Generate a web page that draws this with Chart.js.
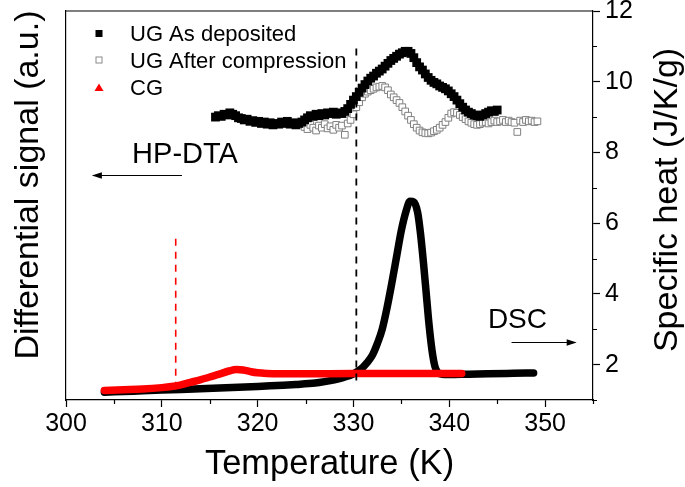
<!DOCTYPE html>
<html><head><meta charset="utf-8">
<script src="https://cdn.jsdelivr.net/npm/chart.js@4.4.1/dist/chart.umd.min.js"></script>
<style>html,body{margin:0;padding:0;background:#fff;}#wrap{width:685px;height:487px;}</style>
</head><body><div id="wrap"><canvas id="c" width="685" height="487"></canvas></div>
<script>
// ---------- data ----------
const xTickValues = [300, 310, 320, 330, 340, 350];
const xMinorTicks = [305, 315, 325, 335, 345, 355];
const cpTickValues = [2, 4, 6, 8, 10, 12];
const cpMinorTicks = [1, 3, 5, 7, 9, 11];

// DSC, UG as deposited (specific heat, J/K/g)
const dscUgT  = [304.0,306,308,310,312,314,316,318,320,322,324,326,327,328,329,330,330.8,331.4,332,332.5,333,333.5,334,334.5,335,335.5,335.9,336.3,336.7,337,337.3,337.6,337.9,338.2,338.5,338.8,339.2,340,342,344,346,348,348.8];
const dscUgCp = [1.22,1.24,1.26,1.28,1.30,1.32,1.34,1.36,1.38,1.41,1.44,1.48,1.52,1.57,1.64,1.74,1.88,2.05,2.28,2.6,3.0,3.6,4.3,5.05,5.8,6.35,6.62,6.6,6.3,5.7,4.9,4.0,3.1,2.4,1.95,1.78,1.73,1.72,1.73,1.74,1.75,1.76,1.76];

// DSC, CG
const dscCgT  = [304.0,306,308,310,311,312,313,314,315,316,317,317.8,318.5,319.3,320,321,322,325,330,335,338,341.3];
const dscCgCp = [1.27,1.29,1.31,1.35,1.38,1.43,1.50,1.57,1.65,1.73,1.82,1.86,1.85,1.80,1.77,1.75,1.74,1.74,1.75,1.75,1.75,1.75];

// HP-DTA, UG as deposited (a.u.)
const dtaUgT = [315.6,315.9,316.2,316.5,316.8,317.1,317.4,317.7,318.0,318.3,318.6,318.9,319.2,319.5,319.8,320.1,320.4,320.7,321.0,321.3,321.6,321.9,322.2,322.5,322.8,323.1,323.4,323.7,324.0,324.3,324.6,324.9,325.2,325.5,325.8,326.1,326.4,326.7,327.0,327.3,327.6,327.9,328.2,328.5,328.8,329.1,329.4,329.7,330.0,330.3,330.6,330.9,331.2,331.5,331.8,332.1,332.4,332.7,333.0,333.3,333.6,333.9,334.2,334.5,334.8,335.1,335.4,335.7,336.0,336.3,336.6,336.9,337.2,337.5,337.8,338.1,338.4,338.7,339.0,339.3,339.6,339.9,340.2,340.5,340.8,341.1,341.4,341.7,342.0,342.3,342.6,342.9,343.2,343.5,343.8,344.1,344.4,344.7,345.0];
const dtaUgSig = [9.00,9.04,9.02,9.08,9.06,9.12,9.08,9.04,8.98,8.96,8.92,8.94,8.88,8.90,8.85,8.88,8.82,8.86,8.80,8.84,8.78,8.82,8.80,8.86,8.82,8.88,8.80,8.84,8.78,8.82,8.86,8.92,8.98,9.04,9.02,9.08,9.04,9.10,9.06,9.12,9.10,9.14,9.08,9.12,9.10,9.16,9.24,9.36,9.48,9.58,9.70,9.82,9.92,10.02,10.10,10.16,10.24,10.30,10.36,10.44,10.52,10.60,10.66,10.72,10.78,10.82,10.86,10.86,10.80,10.68,10.54,10.42,10.33,10.22,10.12,10.04,9.98,9.94,9.88,9.84,9.80,9.74,9.66,9.58,9.48,9.38,9.28,9.20,9.14,9.10,9.06,9.04,9.02,9.06,9.10,9.14,9.18,9.16,9.20];

// HP-DTA, UG after compression (a.u.)
const dtaCompT = [324.9,325.2,325.5,325.8,326.1,326.4,326.7,327.0,327.3,327.6,327.9,328.2,328.5,328.8,329.1,329.4,329.7,330.0,330.3,330.6,330.9,331.2,331.5,331.8,332.1,332.4,332.7,333.0,333.3,333.6,333.9,334.2,334.5,334.8,335.1,335.4,335.7,336.0,336.3,336.6,336.9,337.2,337.5,337.8,338.1,338.4,338.7,339.0,339.3,339.6,339.9,340.2,340.5,340.8,341.1,341.4,341.7,342.0,342.3,342.6,342.9,343.2,343.5,343.8,344.1,344.4,344.7,345.0,345.3,345.6,345.9,346.2,346.5,346.8,347.1,347.4,347.7,348.0,348.3,348.6,348.9,349.2];
const dtaCompSig = [8.72,8.66,8.78,8.70,8.62,8.76,8.70,8.80,8.68,8.74,8.64,8.78,8.70,8.76,8.50,8.82,8.92,9.08,9.28,9.42,9.56,9.66,9.72,9.76,9.80,9.84,9.86,9.88,9.84,9.76,9.64,9.56,9.48,9.40,9.28,9.16,9.04,8.92,8.80,8.70,8.62,8.57,8.55,8.54,8.56,8.60,8.64,8.70,8.78,8.86,8.98,9.10,9.14,9.12,9.06,9.00,8.94,8.88,8.84,8.80,8.78,8.80,8.84,8.86,8.82,8.86,8.90,8.86,8.88,8.92,8.86,8.90,8.86,8.84,8.58,8.90,8.86,8.92,8.88,8.90,8.86,8.88];

// vertical dashed guide lines
const guideBlackT = [330.3, 330.3];
const guideBlackV = [1.55, 11.1];
const guideRedT = [311.45, 311.45];
const guideRedV = [1.32, 5.64];

// annotation anchors (data coordinates)
const hpdtaLabel = {t: 306.9, v: 7.70, text: 'HP-DTA'};
const hpdtaArrow = {from: 312.1, to: 302.7, v: 7.36};
const dscLabel = {t: 350.2, v: 3.04, text: 'DSC'};
const dscArrow = {from: 346.5, to: 353.3, v: 2.64};

const legendItems = ['UG As deposited', 'UG After compression', 'CG'];
const xTitle = 'Temperature (K)';
const leftTitle = 'Differential signal (a.u.)';
const rightTitle = 'Specific heat (J/K/g)';

// ---------- build ----------
const pts = (xs, ys) => xs.map((x, i) => ({x: x, y: ys[i]}));
const FONT = '"Liberation Sans", Arial, Helvetica, sans-serif';

const decor = {
  id: 'decor',
  afterDraw(chart) {
    const {ctx, chartArea: a, scales} = chart;
    const x = scales.x, y2 = scales.y2;
    ctx.save();
    ctx.strokeStyle = '#000';
    ctx.fillStyle = '#000';
    ctx.lineWidth = 1.2;
    // top frame line
    ctx.beginPath(); ctx.moveTo(a.left, a.top); ctx.lineTo(a.right, a.top); ctx.stroke();
    // minor ticks
    ctx.beginPath();
    xMinorTicks.forEach(v => { const p = Math.round(x.getPixelForValue(v)) + 0.5; ctx.moveTo(p, a.bottom); ctx.lineTo(p, a.bottom + 4); });
    cpMinorTicks.forEach(v => { const p = Math.round(y2.getPixelForValue(v)) + 0.5; ctx.moveTo(a.right, p); ctx.lineTo(a.right + 4, p); });
    ctx.stroke();

    // axis titles for y axes (read bottom to top)
    ctx.font = '34px ' + FONT;
    ctx.textAlign = 'center';
    ctx.textBaseline = 'alphabetic';
    ctx.save(); ctx.translate(38, 185); ctx.rotate(-Math.PI / 2); ctx.fillText(leftTitle, 0, 0); ctx.restore();
    ctx.save(); ctx.translate(677, 200); ctx.rotate(-Math.PI / 2); ctx.fillText(rightTitle, 0, 0); ctx.restore();

    // legend
    ctx.textAlign = 'left';
    ctx.font = '22px ' + FONT;
    const lx = 99, tx = 130, rows = [33.5, 60, 87.5], base = [41, 68, 95];
    ctx.fillStyle = '#000';
    ctx.fillRect(lx - 3.5, rows[0] - 3.5, 7, 7);
    ctx.strokeStyle = '#8a8a8a'; ctx.lineWidth = 1;
    ctx.strokeRect(lx - 3, rows[1] - 3, 6, 6);
    ctx.fillStyle = '#ff0000';
    ctx.beginPath(); ctx.moveTo(lx, rows[2] - 4); ctx.lineTo(lx + 4.5, rows[2] + 3.5); ctx.lineTo(lx - 4.5, rows[2] + 3.5); ctx.closePath(); ctx.fill();
    ctx.fillStyle = '#000';
    legendItems.forEach((s, i) => ctx.fillText(s, tx, base[i]));

    // annotations
    ctx.strokeStyle = '#000'; ctx.fillStyle = '#000'; ctx.lineWidth = 1.2;
    ctx.font = '29px ' + FONT;
    ctx.fillText(hpdtaLabel.text, x.getPixelForValue(hpdtaLabel.t), y2.getPixelForValue(hpdtaLabel.v));
    ctx.textAlign = 'right';
    ctx.font = '28px ' + FONT;
    ctx.fillText(dscLabel.text, x.getPixelForValue(dscLabel.t), y2.getPixelForValue(dscLabel.v));
    const arrow = (t0, t1, v) => {
      const x0 = x.getPixelForValue(t0), x1 = x.getPixelForValue(t1), yy = Math.round(y2.getPixelForValue(v)) + 0.5;
      const d = Math.sign(x1 - x0);
      ctx.beginPath(); ctx.moveTo(x0, yy); ctx.lineTo(x1 - d * 6, yy); ctx.stroke();
      ctx.beginPath(); ctx.moveTo(x1, yy); ctx.lineTo(x1 - d * 10, yy - 3.2); ctx.lineTo(x1 - d * 10, yy + 3.2); ctx.closePath(); ctx.fill();
    };
    arrow(hpdtaArrow.from, hpdtaArrow.to, hpdtaArrow.v);
    arrow(dscArrow.from, dscArrow.to, dscArrow.v);
    ctx.restore();
  }
};

new Chart(document.getElementById('c'), {
  type: 'scatter',
  data: {
    datasets: [
      {label: 'UG As deposited (DSC)', data: pts(dscUgT, dscUgCp), yAxisID: 'y2', showLine: true, borderColor: '#000', borderWidth: 7.5, pointRadius: 0, cubicInterpolationMode: 'monotone', borderCapStyle: 'round', borderJoinStyle: 'round', order: 5},
      {label: 'CG', data: pts(dscCgT, dscCgCp), yAxisID: 'y2', showLine: true, borderColor: '#ff0000', borderWidth: 7.5, pointRadius: 0, cubicInterpolationMode: 'monotone', borderCapStyle: 'round', borderJoinStyle: 'round', order: 4},
      {label: 'UG After compression', data: pts(dtaCompT, dtaCompSig), yAxisID: 'y', pointStyle: 'rect', pointRadius: 4.7, backgroundColor: '#fff', borderColor: '#808080', borderWidth: 1, order: 3},
      {label: 'UG As deposited', data: pts(dtaUgT, dtaUgSig), yAxisID: 'y', pointStyle: 'rect', pointRadius: 6.2, backgroundColor: '#000', borderColor: '#000', borderWidth: 0, order: 2},
      {label: 'guide black', data: pts(guideBlackT, guideBlackV), yAxisID: 'y2', showLine: true, borderColor: '#000', borderWidth: 1.8, borderDash: [7, 6], pointRadius: 0, order: 1},
      {label: 'guide red', data: pts(guideRedT, guideRedV), yAxisID: 'y2', showLine: true, borderColor: '#ff0000', borderWidth: 1.6, borderDash: [7, 6], pointRadius: 0, order: 1}
    ]
  },
  options: {
    responsive: false,
    devicePixelRatio: 1,
    animation: false,
    layout: {padding: {top: 11, left: 0, right: 0, bottom: 0}},
    plugins: {legend: {display: false}, tooltip: {enabled: false}},
    elements: {point: {hoverRadius: 0}},
    scales: {
      x: {
        type: 'linear', position: 'bottom', min: 300, max: 355,
        afterBuildTicks: s => { s.ticks = xTickValues.map(v => ({value: v})); },
        afterFit: s => { s.height = 87; s.paddingLeft = 0; s.paddingRight = 0; },
        grid: {drawOnChartArea: false, drawTicks: true, tickLength: 7, tickWidth: 1.2, tickColor: '#000'},
        border: {display: true, color: '#000', width: 1.2},
        ticks: {font: {family: FONT, size: 25}, color: '#000', padding: 2, maxRotation: 0},
        title: {display: true, text: xTitle, font: {family: FONT, size: 34.5}, color: '#000', padding: {top: 0, bottom: 2}}
      },
      y: {
        type: 'linear', position: 'left', min: 1, max: 12,
        afterFit: s => { s.width = 66; s.paddingTop = 0; s.paddingBottom = 0; },
        grid: {drawOnChartArea: false, drawTicks: false},
        border: {display: true, color: '#000', width: 1.2},
        ticks: {display: false}
      },
      y2: {
        type: 'linear', position: 'right', min: 1, max: 12,
        afterBuildTicks: s => { s.ticks = cpTickValues.map(v => ({value: v})); },
        afterFit: s => { s.width = 92; s.paddingTop = 0; s.paddingBottom = 0; },
        grid: {drawOnChartArea: false, drawTicks: true, tickLength: 7, tickWidth: 1.2, tickColor: '#000'},
        border: {display: true, color: '#000', width: 1.2},
        ticks: {font: {family: FONT, size: 25}, color: '#000', padding: 5}
      }
    }
  },
  plugins: [decor]
});
</script></body></html>
